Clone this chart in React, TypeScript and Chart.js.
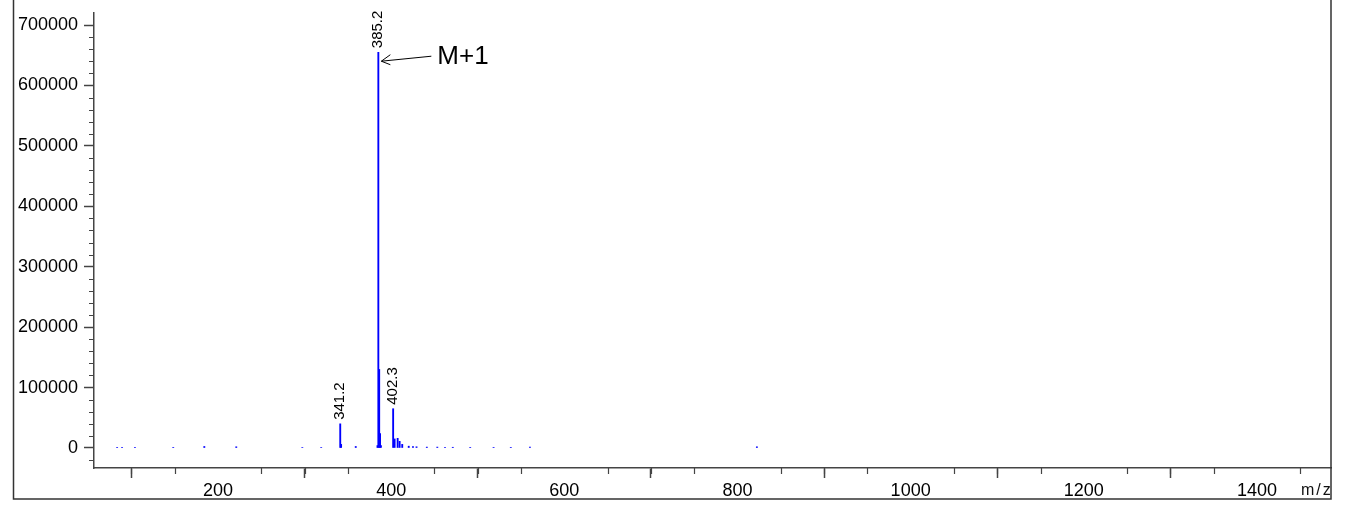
import React, { useEffect, useRef } from "react";
import { Chart, registerables } from "chart.js";

Chart.register(...registerables);

// m/z positions of the spectrum lines
const mzValues = [
  83.5, 89.2, 104.1, 148.3, 184.2, 221.1, 297.4, 319.2, 341.2, 342.2, 359.1,
  384.2, 385.2, 386.2, 387.2, 388.2, 402.3, 404.0, 407.5, 409.8, 412.8, 420.3,
  425.2, 429.3, 441.2, 453.3, 462.2, 471.2, 491.3, 518.3, 538.2, 560.3, 822.4,
];
// intensities for each line
const intensities = [
  1000, 1000, 1000, 1000, 2500, 2000, 900, 900, 40000, 6000, 2500,
  4000, 655000, 130000, 24000, 4000, 65000, 15000, 16000, 11000, 6000, 3000,
  2500, 2000, 1500, 1500, 1200, 1200, 1000, 1000, 1000, 1500, 2000,
];
// labelled peaks
const labelledPeaks = [341.2, 385.2, 402.3];
const annotatedPeak = 385.2;
const annotationText = "M+1";
// ticks
const xMajorTicks = [200, 400, 600, 800, 1000, 1200, 1400];
const xMinorTicks = [
  100, 150, 250, 300, 350, 450, 500, 550, 650, 700, 750, 850, 900, 950, 1050,
  1100, 1150, 1250, 1300, 1350, 1450,
];
const yMajorTicks = [0, 100000, 200000, 300000, 400000, 500000, 600000, 700000];
const yMinorTicks = [
  -20000, 20000, 40000, 60000, 80000, 120000, 140000, 160000, 180000, 220000,
  240000, 260000, 280000, 320000, 340000, 360000, 380000, 420000, 440000,
  460000, 480000, 520000, 540000, 560000, 580000, 620000, 640000, 660000,
  680000,
];
const xUnitLabel = "m/z";

const FONT = '"Liberation Sans", Arial, sans-serif';
const AXIS_COLOR = "#444";

const decorPlugin = {
  id: "decor",
  afterDraw(chart: any) {
    const ctx = chart.ctx;
    const xs = chart.scales.x;
    const ys = chart.scales.y;
    const area = chart.chartArea;
    ctx.save();
    // minor ticks
    ctx.strokeStyle = AXIS_COLOR;
    ctx.lineWidth = 1.2;
    ctx.beginPath();
    for (const v of yMinorTicks) {
      const py = Math.round(ys.getPixelForValue(v)) + 0.5;
      ctx.moveTo(area.left - 5, py);
      ctx.lineTo(area.left, py);
    }
    for (const v of xMinorTicks) {
      const px = Math.round(xs.getPixelForValue(v)) + 0.5;
      ctx.moveTo(px, area.bottom);
      ctx.lineTo(px, area.bottom + 6);
    }
    ctx.stroke();

    // peak labels
    ctx.fillStyle = "#000";
    ctx.font = `15px ${FONT}`;
    ctx.textBaseline = "middle";
    ctx.textAlign = "left";
    for (const p of labelledPeaks) {
      const i = mzValues.indexOf(p);
      if (i < 0) continue;
      const px = xs.getPixelForValue(p);
      const py = ys.getPixelForValue(intensities[i]);
      ctx.save();
      ctx.translate(px, py - 4);
      ctx.rotate(-Math.PI / 2);
      ctx.fillText(p.toFixed(1), 0, 0);
      ctx.restore();
    }

    // annotation arrow
    const ai = mzValues.indexOf(annotatedPeak);
    if (ai >= 0) {
      const px = xs.getPixelForValue(annotatedPeak);
      const py = ys.getPixelForValue(intensities[ai]);
      const tipX = px + 3;
      const tipY = py + 9;
      const tailX = px + 53;
      const tailY = py + 4;
      ctx.strokeStyle = "#000";
      ctx.lineWidth = 1;
      ctx.beginPath();
      ctx.moveTo(tailX, tailY);
      ctx.lineTo(tipX, tipY);
      ctx.moveTo(tipX + 9, tipY - 6.5);
      ctx.lineTo(tipX, tipY);
      ctx.lineTo(tipX + 9, tipY + 3.5);
      ctx.stroke();
      ctx.font = `26px ${FONT}`;
      ctx.textBaseline = "middle";
      ctx.fillText(annotationText, tailX + 6, tailY + 1);
    }

    // unit label
    ctx.font = `16px ${FONT}`;
    ctx.fillStyle = "#111";
    ctx.textBaseline = "alphabetic";
    ctx.textAlign = "left";
    (ctx as any).letterSpacing = "2px";
    ctx.fillText(xUnitLabel, 1301, 495);
    (ctx as any).letterSpacing = "0px";

    // outer frame
    ctx.strokeStyle = "#333";
    ctx.lineWidth = 1.5;
    ctx.beginPath();
    ctx.moveTo(13.5, 0);
    ctx.lineTo(13.5, 499);
    ctx.lineTo(1331, 499);
    ctx.lineTo(1331, 0);
    ctx.stroke();
    ctx.restore();
  },
};

export default function App() {
  const ref = useRef<HTMLCanvasElement | null>(null);

  useEffect(() => {
    if (!ref.current) return;
    const data = mzValues.map((m, i) => ({ x: m, y: intensities[i] }));
    const chart = new Chart(ref.current, {
      type: "bar",
      data: {
        datasets: [
          {
            data: data as any,
            backgroundColor: "#0000ff",
            borderWidth: 0,
            barThickness: 1.2,
          },
        ],
      },
      options: {
        responsive: false,
        animation: false,
        devicePixelRatio: 1,
        layout: { padding: { left: 0, right: 16, top: 13, bottom: 0 } },
        plugins: {
          legend: { display: false },
          tooltip: { enabled: false },
        },
        scales: {
          x: {
            type: "linear",
            min: 56.8,
            max: 1485.5,
            offset: false,
            afterBuildTicks: (s: any) => {
              s.ticks = xMajorTicks.map((v) => ({ value: v }));
            },
            afterFit: (s: any) => {
              s.height = 50;
              s.paddingLeft = 0;
              s.paddingRight = 0;
            },
            grid: {
              drawOnChartArea: false,
              drawTicks: true,
              tickLength: 10,
              tickColor: AXIS_COLOR,
              tickWidth: 1.5,
            },
            border: { display: true, color: AXIS_COLOR, width: 1.5 },
            ticks: {
              color: "#000",
              font: { family: FONT, size: 18 },
              padding: 2,
              maxRotation: 0,
              autoSkip: false,
              callback: (v: any) => String(v),
            },
          },
          y: {
            type: "linear",
            min: -33100,
            max: 719900,
            afterBuildTicks: (s: any) => {
              s.ticks = yMajorTicks.map((v) => ({ value: v }));
            },
            afterFit: (s: any) => {
              s.width = 94;
              s.paddingTop = 0;
              s.paddingBottom = 0;
            },
            grid: {
              drawOnChartArea: false,
              drawTicks: true,
              tickLength: 10,
              tickColor: AXIS_COLOR,
              tickWidth: 1.5,
            },
            border: { display: true, color: AXIS_COLOR, width: 1.5 },
            ticks: {
              color: "#000",
              font: { family: FONT, size: 18 },
              padding: 6,
              autoSkip: false,
              callback: (v: any) => String(v),
            },
          },
        },
      },
      plugins: [decorPlugin],
    });
    return () => chart.destroy();
  }, []);

  return (
    <div
      style={{
        position: "absolute",
        left: 0,
        top: 0,
        width: 1347,
        height: 518,
        background: "#fff",
      }}
    >
      <canvas ref={ref} width={1347} height={518} style={{ display: "block" }} />
    </div>
  );
}
